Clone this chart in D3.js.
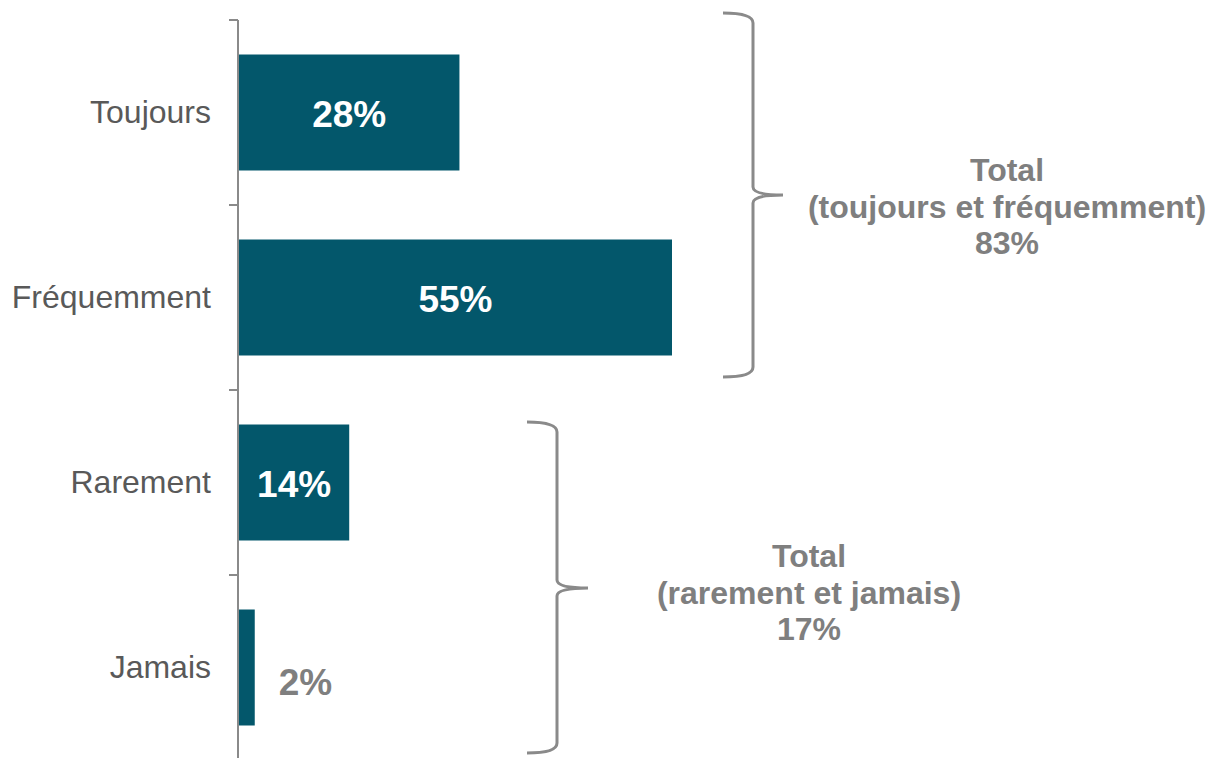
<!DOCTYPE html>
<meta charset="utf-8">
<style>
  body { margin: 0; background: #fff; }
  text { font-family: "Liberation Sans", Arial, sans-serif; }
</style>
<body>
<div id="chart"></div>
<script src="https://cdn.jsdelivr.net/npm/d3@7"></script>
<script>
// data
var categories = ["Toujours", "Fréquemment", "Rarement", "Jamais"];
var values = [28, 55, 14, 2];
var groupLabels = ["(toujours et fréquemment)", "(rarement et jamais)"];
var groupTotals = [83, 17];

var width = 1210, height = 758;
var barColor = "#03576b", gray = "#7f7f7f", axisGray = "#8a8a8a";

var svg = d3.select("#chart").append("svg")
    .attr("width", width)
    .attr("height", height);

// scales
var x = d3.scaleLinear().domain([0, 55]).range([239, 672]);
var y = d3.scaleBand().domain(categories).range([20, 760])
    .paddingInner(0.373).paddingOuter(0.1865);
var yb = d3.scaleBand().domain(categories).range([20, 760]); // band edges for ticks

// axis line + ticks at band boundaries
svg.append("line")
    .attr("x1", 238).attr("x2", 238)
    .attr("y1", yb.range()[0]).attr("y2", height)
    .attr("stroke", axisGray).attr("stroke-width", 2);
svg.selectAll(".tick")
    .data(categories)
  .enter().append("line")
    .attr("x1", 229).attr("x2", 238)
    .attr("y1", function(d) { return yb(d); })
    .attr("y2", function(d) { return yb(d); })
    .attr("stroke", axisGray).attr("stroke-width", 2);

// category labels
svg.selectAll(".cat")
    .data(categories)
  .enter().append("text")
    .attr("x", 211)
    .attr("y", function(d) { return y(d) + y.bandwidth() / 2; })
    .attr("dy", "0.33em")
    .attr("text-anchor", "end")
    .attr("fill", "#595959")
    .style("font-size", "32px")
    .text(function(d) { return d; });

// bars
svg.selectAll(".bar")
    .data(values)
  .enter().append("rect")
    .attr("x", x(0))
    .attr("y", function(d, i) { return y(categories[i]); })
    .attr("width", function(d) { return x(d) - x(0); })
    .attr("height", y.bandwidth())
    .attr("fill", barColor);

// value labels (small values sit outside, a bit lower)
svg.selectAll(".val")
    .data(values)
  .enter().append("text")
    .attr("x", function(d) { return d >= 10 ? (x(0) + x(d)) / 2 : x(d) + 24; })
    .attr("y", function(d, i) { return y(categories[i]) + y.bandwidth() / 2 + (d >= 10 ? 0 : 13); })
    .attr("dy", "0.38em")
    .attr("text-anchor", function(d) { return d >= 10 ? "middle" : "start"; })
    .attr("fill", function(d) { return d >= 10 ? "#fff" : gray; })
    .style("font-size", "37px")
    .style("font-weight", "bold")
    .text(function(d) { return d + "%"; });

// brackets and totals
var brackets = [
  {spine: 753, arm: 30, tip: 30, top: 13, mid: 195, bottom: 377, textX: 1007, textY: 181},
  {spine: 557, arm: 30, tip: 31, top: 422, mid: 588, bottom: 753, textX: 809, textY: 567}
];

brackets.forEach(function(b, i) {
  var s = b.spine, a = s - b.arm, t = s + b.tip, mid = b.mid;
  var p = d3.path();
  p.moveTo(a, b.top);
  p.quadraticCurveTo(s, b.top, s, b.top + 10);
  p.lineTo(s, mid - 8);
  p.quadraticCurveTo(s, mid, t, mid);
  p.quadraticCurveTo(s, mid, s, mid + 8);
  p.lineTo(s, b.bottom - 10);
  p.quadraticCurveTo(s, b.bottom, a, b.bottom);
  svg.append("path")
    .attr("d", p.toString())
    .attr("fill", "none")
    .attr("stroke", axisGray)
    .attr("stroke-width", 3);

  var txt = svg.append("text")
    .attr("text-anchor", "middle")
    .attr("fill", gray)
    .style("font-size", "32px")
    .style("font-weight", "bold");
  ["Total", groupLabels[i], groupTotals[i] + "%"].forEach(function(line, k) {
    txt.append("tspan")
      .attr("x", b.textX)
      .attr("y", b.textY + k * 36.5)
      .text(line);
  });
});
</script>
</body>
